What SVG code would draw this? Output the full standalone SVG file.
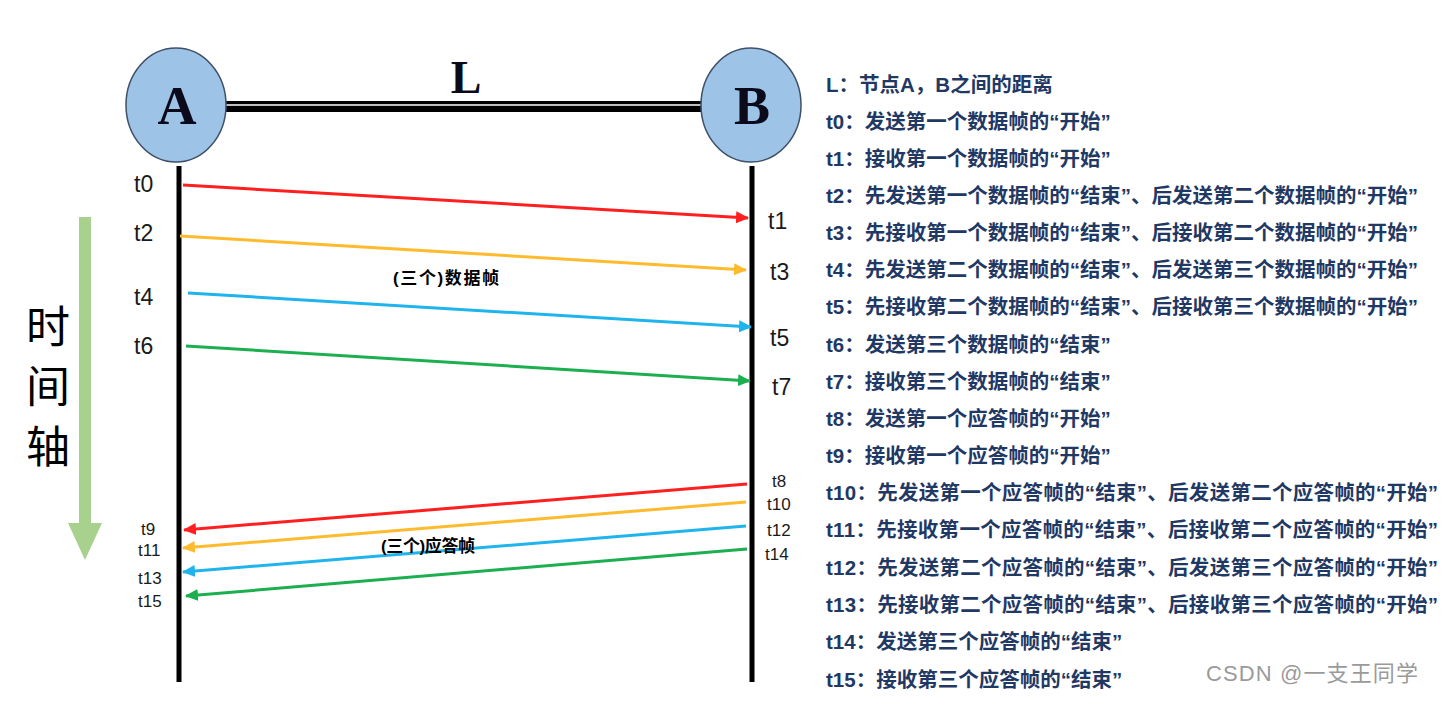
<svg xmlns="http://www.w3.org/2000/svg" width="1444" height="706" viewBox="0 0 1444 706">
<style>
.node{fill:#9DC3E6;stroke:#3F5068;stroke-width:1.5}
.big{font-family:"Liberation Serif",serif;font-weight:bold;fill:#0a0a1a}
.tl{font-family:"Liberation Sans","Open Sans",sans-serif;fill:#1a1a1a}
.lg{font-family:"Liberation Sans","Noto Sans CJK SC",sans-serif;font-weight:bold;font-size:20.5px;fill:#1F3864}
.mid{font-family:"Liberation Sans","Noto Sans CJK SC",sans-serif;font-weight:bold;font-size:17px;fill:#000}
.life{stroke:#000;stroke-width:5}
.msg{stroke-width:3;fill:none}
.ax{font-family:"Noto Sans CJK SC",sans-serif;font-size:44px;fill:#000}
</style>
<defs>
<marker id="hr" markerUnits="userSpaceOnUse" markerWidth="14" markerHeight="12" refX="12" refY="6" orient="auto"><path d="M0,0 L13,6 L0,12 Z" fill="#FF1F1F"/></marker>
<marker id="ho" markerUnits="userSpaceOnUse" markerWidth="14" markerHeight="12" refX="12" refY="6" orient="auto"><path d="M0,0 L13,6 L0,12 Z" fill="#FDBB2D"/></marker>
<marker id="hb" markerUnits="userSpaceOnUse" markerWidth="14" markerHeight="12" refX="12" refY="6" orient="auto"><path d="M0,0 L13,6 L0,12 Z" fill="#1FB4EC"/></marker>
<marker id="hg" markerUnits="userSpaceOnUse" markerWidth="14" markerHeight="12" refX="12" refY="6" orient="auto"><path d="M0,0 L13,6 L0,12 Z" fill="#1CAF50"/></marker>
</defs>
<rect width="1444" height="706" fill="#fff"/>

<g id="link">
<rect x="226" y="101" width="478" height="11" fill="#000"/>
<line x1="226" y1="105" x2="704" y2="105" stroke="#fff" stroke-width="1.6"/>
<text class="big" x="466" y="93" font-size="46" text-anchor="middle">L</text>
</g>

<g id="nodeA">
<ellipse class="node" cx="176" cy="105" rx="50" ry="57"/>
<text class="big" x="177" y="124" font-size="54" text-anchor="middle">A</text>
</g>
<g id="nodeB">
<ellipse class="node" cx="751" cy="105" rx="50" ry="57"/>
<text class="big" x="752" y="124" font-size="54" text-anchor="middle">B</text>
</g>

<g id="lifelines">
<line class="life" x1="179" y1="166" x2="179" y2="682"/>
<line class="life" x1="752" y1="166" x2="752" y2="682"/>
</g>

<g id="timeaxis">
<polygon points="79,217 91,217 91,523 102,523 85,560 68,523 79,523" fill="#A9D18E"/>
<text class="ax" x="48" y="343" text-anchor="middle">时</text>
<text class="ax" x="48" y="403" text-anchor="middle">间</text>
<text class="ax" x="48" y="463" text-anchor="middle">轴</text>
</g>

<g id="connectors">
<line class="msg" stroke="#FF1F1F" x1="183" y1="185" x2="748" y2="218" marker-end="url(#hr)"/>
<line class="msg" stroke="#FDBB2D" x1="180" y1="236" x2="746" y2="270" marker-end="url(#ho)"/>
<line class="msg" stroke="#1FB4EC" x1="188" y1="293" x2="751" y2="327" marker-end="url(#hb)"/>
<line class="msg" stroke="#1CAF50" x1="186" y1="346" x2="750" y2="381" marker-end="url(#hg)"/>
<line class="msg" stroke="#FF1F1F" x1="747" y1="484" x2="184" y2="530" marker-end="url(#hr)"/>
<line class="msg" stroke="#FDBB2D" x1="746" y1="502" x2="183" y2="548" marker-end="url(#ho)"/>
<line class="msg" stroke="#1FB4EC" x1="746" y1="526" x2="183" y2="572" marker-end="url(#hb)"/>
<line class="msg" stroke="#1CAF50" x1="747" y1="549" x2="186" y2="596" marker-end="url(#hg)"/>
</g>

<g id="timelabels">
<text class="tl" font-size="23" x="134" y="192">t0</text>
<text class="tl" font-size="23" x="134" y="241">t2</text>
<text class="tl" font-size="23" x="134" y="305">t4</text>
<text class="tl" font-size="23" x="134" y="354">t6</text>
<text class="tl" font-size="23" x="768" y="229">t1</text>
<text class="tl" font-size="23" x="770" y="280">t3</text>
<text class="tl" font-size="23" x="770" y="346">t5</text>
<text class="tl" font-size="23" x="772" y="395">t7</text>
<text class="tl" font-size="17" x="772" y="487">t8</text>
<text class="tl" font-size="17" x="767" y="510">t10</text>
<text class="tl" font-size="17" x="767" y="536">t12</text>
<text class="tl" font-size="17" x="765" y="560">t14</text>
<text class="tl" font-size="17" x="141" y="535">t9</text>
<text class="tl" font-size="17" x="138" y="556">t11</text>
<text class="tl" font-size="17" x="138" y="584">t13</text>
<text class="tl" font-size="17" x="138" y="607">t15</text>
</g>

<g id="midlabels">
<text class="mid" x="393" y="284" textLength="106">(三个)数据帧</text>
<text class="mid" x="381" y="552" textLength="94">(三个)应答帧</text>
</g>

<g id="legend">
<text class="lg" x="826" y="92">L：节点A，B之间的距离</text>
<text class="lg" x="826" y="129">t0：发送第一个数据帧的“开始”</text>
<text class="lg" x="826" y="166">t1：接收第一个数据帧的“开始”</text>
<text class="lg" x="826" y="203" textLength="592">t2：先发送第一个数据帧的“结束”、后发送第二个数据帧的“开始”</text>
<text class="lg" x="826" y="240" textLength="592">t3：先接收第一个数据帧的“结束”、后接收第二个数据帧的“开始”</text>
<text class="lg" x="826" y="277" textLength="592">t4：先发送第二个数据帧的“结束”、后发送第三个数据帧的“开始”</text>
<text class="lg" x="826" y="314" textLength="592">t5：先接收第二个数据帧的“结束”、后接收第三个数据帧的“开始”</text>
<text class="lg" x="826" y="352">t6：发送第三个数据帧的“结束”</text>
<text class="lg" x="826" y="389">t7：接收第三个数据帧的“结束”</text>
<text class="lg" x="826" y="426">t8：发送第一个应答帧的“开始”</text>
<text class="lg" x="826" y="463">t9：接收第一个应答帧的“开始”</text>
<text class="lg" x="826" y="500" textLength="612">t10：先发送第一个应答帧的“结束”、后发送第二个应答帧的“开始”</text>
<text class="lg" x="826" y="537" textLength="612">t11：先接收第一个应答帧的“结束”、后接收第二个应答帧的“开始”</text>
<text class="lg" x="826" y="575" textLength="612">t12：先发送第二个应答帧的“结束”、后发送第三个应答帧的“开始”</text>
<text class="lg" x="826" y="612" textLength="612">t13：先接收第二个应答帧的“结束”、后接收第三个应答帧的“开始”</text>
<text class="lg" x="826" y="649">t14：发送第三个应答帧的“结束”</text>
<text class="lg" x="826" y="687">t15：接收第三个应答帧的“结束”</text>
</g>

<text x="1206" y="681" font-family="Liberation Sans,Noto Sans CJK SC,sans-serif" font-size="22" fill="#9a9a9a" textLength="212">CSDN @一支王同学</text>
</svg>
